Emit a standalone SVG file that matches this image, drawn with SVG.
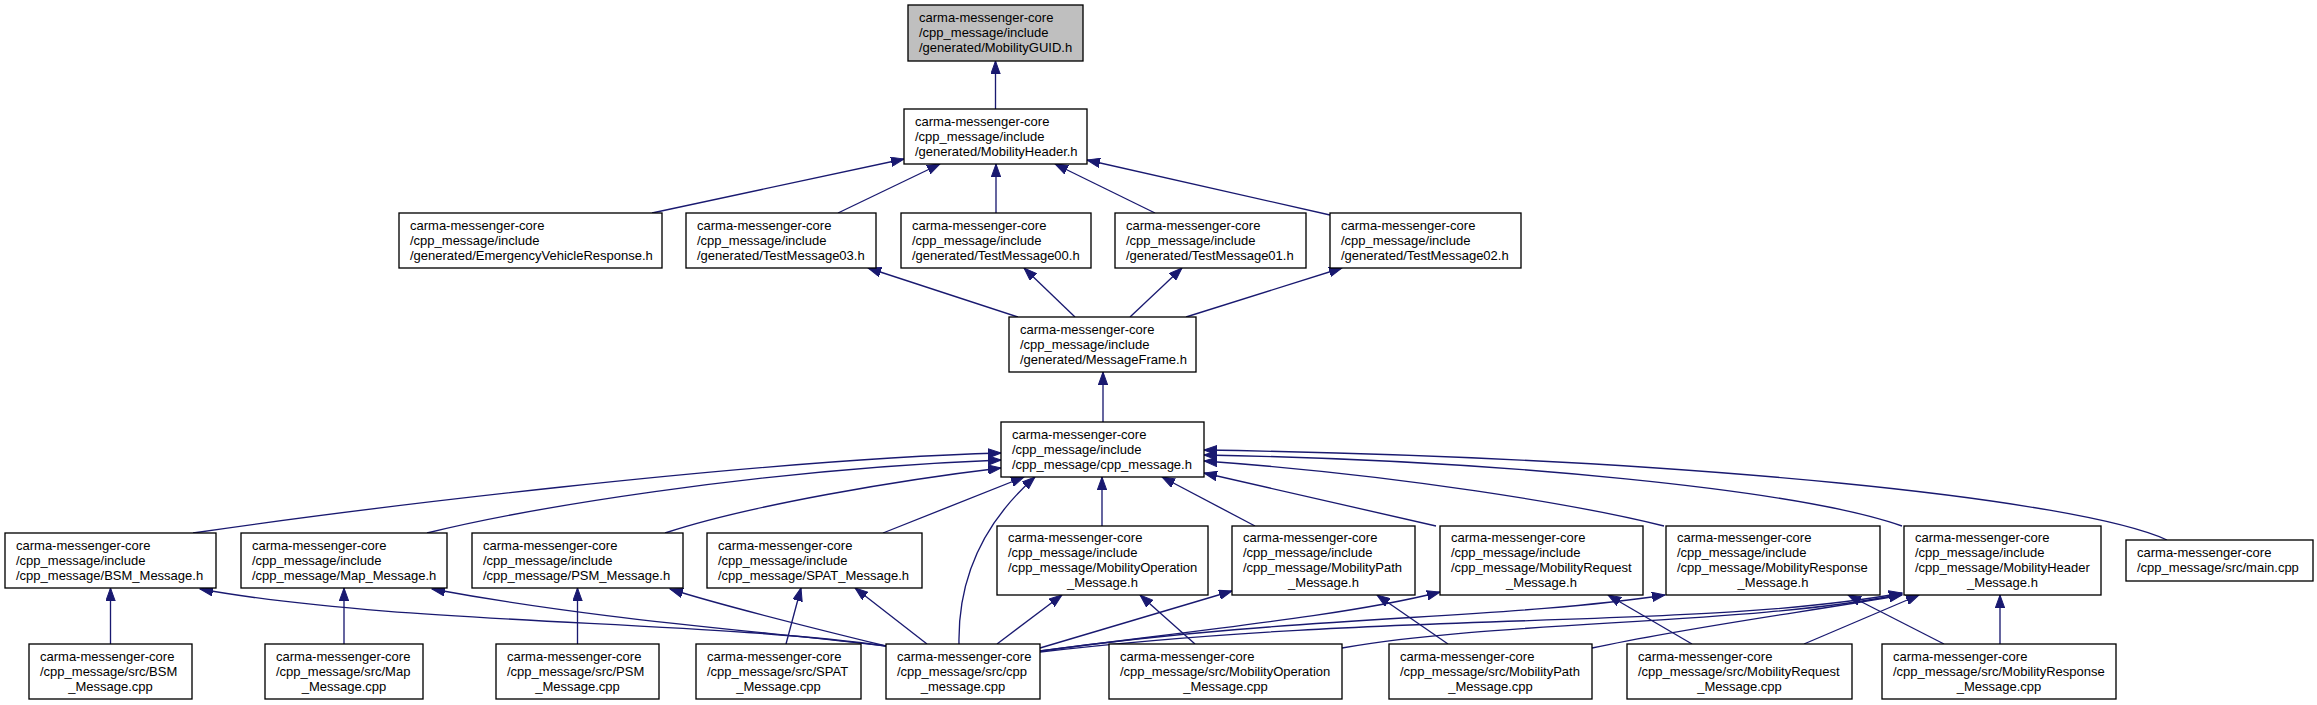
<svg xmlns="http://www.w3.org/2000/svg" width="2317" height="705" viewBox="0 0 2317 705">
<style>
.n rect{fill:#fff;stroke:#000;stroke-width:1.33}
#n_guid rect{fill:#bfbfbf}
text{font-family:"Liberation Sans",Arial,Helvetica,sans-serif;font-size:13px;fill:#000}
.c{text-anchor:middle}
#edges path{fill:none;stroke:#191970;stroke-width:1.33;marker-end:url(#ah)}
</style>
<defs>
<marker id="ah" markerUnits="userSpaceOnUse" markerWidth="14" markerHeight="10" refX="13" refY="5" orient="auto" viewBox="0 0 14 10">
<path d="M0,0.3 L13,5 L0,9.7 z" fill="#191970" stroke="#191970" stroke-width="1"/>
</marker>
</defs>
<rect width="2317" height="705" fill="#fff"/>
<g id="edges">
<path d="M995.5,109 L995.5,61"/>
<path d="M652,213 L904,159"/>
<path d="M838,213 L940,164"/>
<path d="M996,213 L996,164"/>
<path d="M1155,213 L1055,164"/>
<path d="M1330,215 L1087,160"/>
<path d="M1018,317 L868,268"/>
<path d="M1075,317 L1024,268"/>
<path d="M1130,317 L1182,268"/>
<path d="M1186,317 L1342,268"/>
<path d="M1103,422 L1103,372"/>
<path d="M193,533 C350,510 750,460 1001,453"/>
<path d="M427,533 C520,510 750,470 1001,460"/>
<path d="M665,533 C750,505 900,480 1001,468"/>
<path d="M883,533 L1024,477"/>
<path d="M959,644 C958,590 975,530 1035,477"/>
<path d="M1102,526 L1102,477"/>
<path d="M1255,526 L1162,477"/>
<path d="M1436,526 L1204,473"/>
<path d="M1664,526 C1580,505 1400,475 1204,461"/>
<path d="M1902,526 C1800,490 1500,460 1204,455"/>
<path d="M2167,540 C2080,500 1700,458 1204,450"/>
<path d="M110.5,644 L110.5,588"/>
<path d="M886,646 C700,620 400,625 200,589"/>
<path d="M344,644 L344,588"/>
<path d="M886,646 C750,630 600,620 432,589"/>
<path d="M577.5,644 L577.5,588"/>
<path d="M886,646 C800,625 720,605 670,589"/>
<path d="M786,644 L801,588"/>
<path d="M927,644 L855,588"/>
<path d="M997,644 L1062,595"/>
<path d="M1195,644 L1140,595"/>
<path d="M1040,648 L1232,591"/>
<path d="M1448,644 L1377,595"/>
<path d="M1040,651 C1200,630 1350,615 1440,592"/>
<path d="M1692,644 L1608,595"/>
<path d="M1040,651 C1300,615 1500,620 1665,595"/>
<path d="M1944,644 L1848,595"/>
<path d="M1040,652 C1400,610 1700,630 1902,593"/>
<path d="M1342,648 C1500,620 1750,625 1902,594"/>
<path d="M1592,648 C1700,625 1820,610 1902,595"/>
<path d="M1804,644 L1919,595"/>
<path d="M2000,644 L2000,595"/>
</g>
<g id="n_guid" class="n"><rect x="908" y="5" width="175" height="56"/><text x="919" y="22">carma-messenger-core</text><text x="919" y="37">/cpp_message/include</text><text x="919" y="52">/generated/MobilityGUID.h</text></g>
<g id="n_header" class="n"><rect x="904" y="109" width="183" height="55"/><text x="915" y="125.5">carma-messenger-core</text><text x="915" y="140.5">/cpp_message/include</text><text x="915" y="155.5">/generated/MobilityHeader.h</text></g>
<g id="n_emerg" class="n"><rect x="399" y="213" width="263" height="55"/><text x="410" y="229.5">carma-messenger-core</text><text x="410" y="244.5">/cpp_message/include</text><text x="410" y="259.5">/generated/EmergencyVehicleResponse.h</text></g>
<g id="n_tm03" class="n"><rect x="686" y="213" width="190" height="55"/><text x="697" y="229.5">carma-messenger-core</text><text x="697" y="244.5">/cpp_message/include</text><text x="697" y="259.5">/generated/TestMessage03.h</text></g>
<g id="n_tm00" class="n"><rect x="901" y="213" width="190" height="55"/><text x="912" y="229.5">carma-messenger-core</text><text x="912" y="244.5">/cpp_message/include</text><text x="912" y="259.5">/generated/TestMessage00.h</text></g>
<g id="n_tm01" class="n"><rect x="1115" y="213" width="191" height="55"/><text x="1126" y="229.5">carma-messenger-core</text><text x="1126" y="244.5">/cpp_message/include</text><text x="1126" y="259.5">/generated/TestMessage01.h</text></g>
<g id="n_tm02" class="n"><rect x="1330" y="213" width="191" height="55"/><text x="1341" y="229.5">carma-messenger-core</text><text x="1341" y="244.5">/cpp_message/include</text><text x="1341" y="259.5">/generated/TestMessage02.h</text></g>
<g id="n_mf" class="n"><rect x="1009" y="317" width="187" height="55"/><text x="1020" y="333.5">carma-messenger-core</text><text x="1020" y="348.5">/cpp_message/include</text><text x="1020" y="363.5">/generated/MessageFrame.h</text></g>
<g id="n_cpph" class="n"><rect x="1001" y="422" width="203" height="55"/><text x="1012" y="438.5">carma-messenger-core</text><text x="1012" y="453.5">/cpp_message/include</text><text x="1012" y="468.5">/cpp_message/cpp_message.h</text></g>
<g id="n_bsmh" class="n"><rect x="5" y="533" width="211" height="55"/><text x="16" y="549.5">carma-messenger-core</text><text x="16" y="564.5">/cpp_message/include</text><text x="16" y="579.5">/cpp_message/BSM_Message.h</text></g>
<g id="n_maph" class="n"><rect x="241" y="533" width="206" height="55"/><text x="252" y="549.5">carma-messenger-core</text><text x="252" y="564.5">/cpp_message/include</text><text x="252" y="579.5">/cpp_message/Map_Message.h</text></g>
<g id="n_psmh" class="n"><rect x="472" y="533" width="211" height="55"/><text x="483" y="549.5">carma-messenger-core</text><text x="483" y="564.5">/cpp_message/include</text><text x="483" y="579.5">/cpp_message/PSM_Message.h</text></g>
<g id="n_spath" class="n"><rect x="707" y="533" width="215" height="55"/><text x="718" y="549.5">carma-messenger-core</text><text x="718" y="564.5">/cpp_message/include</text><text x="718" y="579.5">/cpp_message/SPAT_Message.h</text></g>
<g id="n_mobop_h" class="n"><rect x="997" y="526" width="211" height="69"/><text x="1008" y="542">carma-messenger-core</text><text x="1008" y="557">/cpp_message/include</text><text x="1008" y="572">/cpp_message/MobilityOperation</text><text class="c" x="1102.5" y="587">_Message.h</text></g>
<g id="n_mobpath_h" class="n"><rect x="1232" y="526" width="183" height="69"/><text x="1243" y="542">carma-messenger-core</text><text x="1243" y="557">/cpp_message/include</text><text x="1243" y="572">/cpp_message/MobilityPath</text><text class="c" x="1323.5" y="587">_Message.h</text></g>
<g id="n_mobreq_h" class="n"><rect x="1440" y="526" width="203" height="69"/><text x="1451" y="542">carma-messenger-core</text><text x="1451" y="557">/cpp_message/include</text><text x="1451" y="572">/cpp_message/MobilityRequest</text><text class="c" x="1541.5" y="587">_Message.h</text></g>
<g id="n_mobresp_h" class="n"><rect x="1666" y="526" width="214" height="69"/><text x="1677" y="542">carma-messenger-core</text><text x="1677" y="557">/cpp_message/include</text><text x="1677" y="572">/cpp_message/MobilityResponse</text><text class="c" x="1773" y="587">_Message.h</text></g>
<g id="n_mobhdr_h" class="n"><rect x="1904" y="526" width="197" height="69"/><text x="1915" y="542">carma-messenger-core</text><text x="1915" y="557">/cpp_message/include</text><text x="1915" y="572">/cpp_message/MobilityHeader</text><text class="c" x="2002.5" y="587">_Message.h</text></g>
<g id="n_main" class="n"><rect x="2126" y="540" width="187" height="41"/><text x="2137" y="557">carma-messenger-core</text><text x="2137" y="572">/cpp_message/src/main.cpp</text></g>
<g id="n_bsm_cpp" class="n"><rect x="29" y="644" width="163" height="55"/><text x="40" y="660.5">carma-messenger-core</text><text x="40" y="675.5">/cpp_message/src/BSM</text><text class="c" x="110.5" y="690.5">_Message.cpp</text></g>
<g id="n_map_cpp" class="n"><rect x="265" y="644" width="158" height="55"/><text x="276" y="660.5">carma-messenger-core</text><text x="276" y="675.5">/cpp_message/src/Map</text><text class="c" x="344" y="690.5">_Message.cpp</text></g>
<g id="n_psm_cpp" class="n"><rect x="496" y="644" width="163" height="55"/><text x="507" y="660.5">carma-messenger-core</text><text x="507" y="675.5">/cpp_message/src/PSM</text><text class="c" x="577.5" y="690.5">_Message.cpp</text></g>
<g id="n_spat_cpp" class="n"><rect x="696" y="644" width="165" height="55"/><text x="707" y="660.5">carma-messenger-core</text><text x="707" y="675.5">/cpp_message/src/SPAT</text><text class="c" x="778.5" y="690.5">_Message.cpp</text></g>
<g id="n_cpp_cpp" class="n"><rect x="886" y="644" width="154" height="55"/><text x="897" y="660.5">carma-messenger-core</text><text x="897" y="675.5">/cpp_message/src/cpp</text><text class="c" x="963" y="690.5">_message.cpp</text></g>
<g id="n_mobop_cpp" class="n"><rect x="1109" y="644" width="233" height="55"/><text x="1120" y="660.5">carma-messenger-core</text><text x="1120" y="675.5">/cpp_message/src/MobilityOperation</text><text class="c" x="1225.5" y="690.5">_Message.cpp</text></g>
<g id="n_mobpath_cpp" class="n"><rect x="1389" y="644" width="203" height="55"/><text x="1400" y="660.5">carma-messenger-core</text><text x="1400" y="675.5">/cpp_message/src/MobilityPath</text><text class="c" x="1490.5" y="690.5">_Message.cpp</text></g>
<g id="n_mobreq_cpp" class="n"><rect x="1627" y="644" width="225" height="55"/><text x="1638" y="660.5">carma-messenger-core</text><text x="1638" y="675.5">/cpp_message/src/MobilityRequest</text><text class="c" x="1739.5" y="690.5">_Message.cpp</text></g>
<g id="n_mobresp_cpp" class="n"><rect x="1882" y="644" width="234" height="55"/><text x="1893" y="660.5">carma-messenger-core</text><text x="1893" y="675.5">/cpp_message/src/MobilityResponse</text><text class="c" x="1999" y="690.5">_Message.cpp</text></g>
</svg>
